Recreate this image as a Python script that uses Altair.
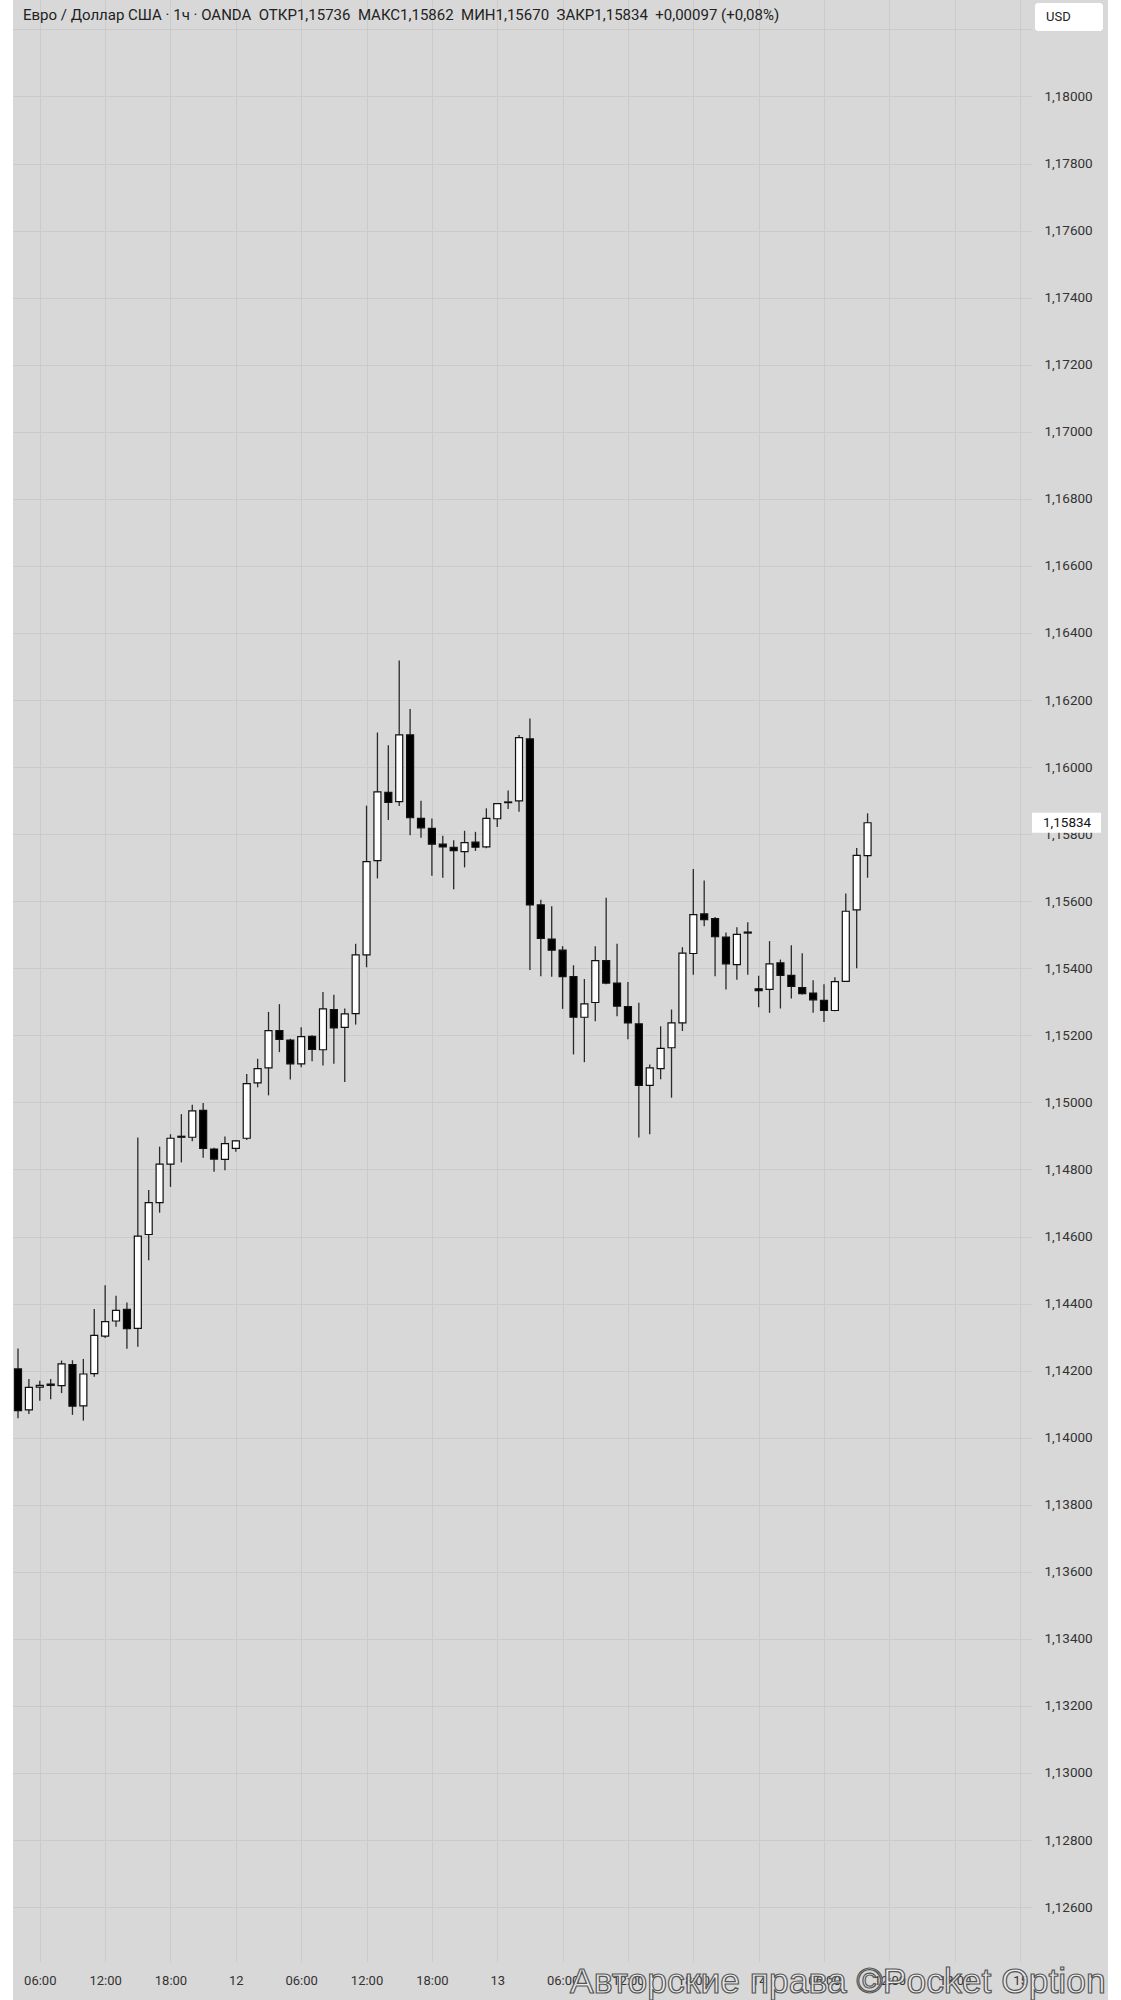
import altair as alt
import pandas as pd

# EUR/USD, 1-hour candles (OANDA), 11 Nov 04:00 -> 14 Nov 10:00 UTC
opens = [
    1.14205, 1.14083, 1.14151, 1.14160, 1.14155, 1.14218, 1.14095, 1.14191, 1.14303, 1.14348,
    1.14383, 1.14326, 1.14606, 1.14701, 1.14816, 1.14896, 1.14896, 1.14976, 1.14861, 1.14830,
    1.14863, 1.14893, 1.15058, 1.15103, 1.15214, 1.15186, 1.15115, 1.15197, 1.15157, 1.15277,
    1.15224, 1.15265, 1.15440, 1.15721, 1.15925, 1.15897, 1.16096, 1.15847, 1.15817, 1.15770,
    1.15761, 1.15748, 1.15776, 1.15762, 1.15846, 1.15894, 1.15899, 1.16084, 1.15589, 1.15487,
    1.15454, 1.15375, 1.15254, 1.15298, 1.15423, 1.15356, 1.15286, 1.15234, 1.15051, 1.15101,
    1.15163, 1.15237, 1.15444, 1.15562, 1.15548, 1.15493, 1.15411, 1.15505, 1.15339, 1.15337,
    1.15416, 1.15379, 1.15342, 1.15326, 1.15304, 1.15274, 1.15361, 1.15574, 1.15736,
]
highs = [
    1.14266, 1.14175, 1.14170, 1.14175, 1.14230, 1.14231, 1.14235, 1.14384, 1.14455, 1.14423,
    1.14403, 1.14895, 1.14739, 1.14868, 1.14905, 1.14965, 1.14993, 1.14998, 1.14865, 1.14898,
    1.14888, 1.15085, 1.15130, 1.15270, 1.15293, 1.15190, 1.15224, 1.15200, 1.15329, 1.15321,
    1.15280, 1.15473, 1.15885, 1.16103, 1.16065, 1.16318, 1.16173, 1.15900, 1.15847, 1.15795,
    1.15782, 1.15810, 1.15807, 1.15877, 1.15892, 1.15930, 1.16096, 1.16145, 1.15604, 1.15585,
    1.15466, 1.15409, 1.15368, 1.15466, 1.15610, 1.15473, 1.15359, 1.15297, 1.15113, 1.15227,
    1.15277, 1.15463, 1.15696, 1.15662, 1.15553, 1.15507, 1.15522, 1.15537, 1.15378, 1.15481,
    1.15426, 1.15469, 1.15445, 1.15364, 1.15352, 1.15373, 1.15623, 1.15759, 1.15862,
]
lows = [
    1.14058, 1.14071, 1.14110, 1.14115, 1.14133, 1.14068, 1.14051, 1.14182, 1.14297, 1.14331,
    1.14265, 1.14271, 1.14529, 1.14671, 1.14748, 1.14821, 1.14884, 1.14835, 1.14793, 1.14798,
    1.14853, 1.14888, 1.15045, 1.15021, 1.15150, 1.15068, 1.15105, 1.15123, 1.15110, 1.15115,
    1.15061, 1.15232, 1.15403, 1.15668, 1.15842, 1.15884, 1.15797, 1.15789, 1.15676, 1.15670,
    1.15636, 1.15701, 1.15750, 1.15758, 1.15821, 1.15875, 1.15867, 1.15395, 1.15376, 1.15375,
    1.15279, 1.15143, 1.15120, 1.15242, 1.15352, 1.15257, 1.15188, 1.14895, 1.14905, 1.15069,
    1.15014, 1.15213, 1.15381, 1.15525, 1.15376, 1.15337, 1.15366, 1.15381, 1.15284, 1.15267,
    1.15280, 1.15310, 1.15322, 1.15267, 1.15240, 1.15272, 1.15400, 1.15400, 1.15670,
]
closes = [
    1.14081, 1.14150, 1.14156, 1.14156, 1.14220, 1.14094, 1.14190, 1.14305, 1.14346, 1.14380,
    1.14325, 1.14601, 1.14701, 1.14816, 1.14893, 1.14899, 1.14975, 1.14863, 1.14831, 1.14877,
    1.14885, 1.15056, 1.15101, 1.15214, 1.15188, 1.15115, 1.15196, 1.15158, 1.15279, 1.15222,
    1.15264, 1.15440, 1.15718, 1.15926, 1.15895, 1.16096, 1.15849, 1.15819, 1.15770, 1.15762,
    1.15751, 1.15775, 1.15761, 1.15847, 1.15891, 1.15896, 1.16088, 1.15589, 1.15489, 1.15454,
    1.15375, 1.15254, 1.15294, 1.15423, 1.15356, 1.15287, 1.15237, 1.15051, 1.15103, 1.15161,
    1.15237, 1.15445, 1.15560, 1.15545, 1.15494, 1.15413, 1.15501, 1.15508, 1.15333, 1.15413,
    1.15379, 1.15346, 1.15324, 1.15306, 1.15274, 1.15360, 1.15570, 1.15737, 1.15834,
]

times = (
    pd.date_range("2025-11-11 04:00", periods=len(opens), freq="h")
    .strftime("%Y-%m-%dT%H:%M:%SZ")
    .tolist()
)

# price grid every 0.002
price_ticks = [round(1.126 + 0.002 * k, 3) for k in range(29)]
# time grid every 6 hours
time_ticks = pd.date_range("2025-11-11 06:00", "2025-11-15 00:00", freq="6h")

GAP = "\u00a0\u00a0"
header = GAP.join([
    "Евро / Доллар США · 1ч · OANDA",
    "ОТКР1,15736", "МАКС1,15862", "МИН1,15670", "ЗАКР1,15834", "+0,00097 (+0,08%)",
])
currency = "USD"
watermark = "Авторские права ©Pocket Option"

BG = "#d8d8d8"
GRID = "#cbcbcb"
FONT = "Roboto"

df = pd.DataFrame({"t": times, "o": opens, "h": highs, "l": lows, "c": closes})
df["dir"] = ["up" if c >= o else "down" for o, c in zip(opens, closes)]

x_scale = alt.Scale(
    type="utc",
    domain=[
        alt.DateTime(year=2025, month=11, date=11, hours=4, utc=True),
        alt.DateTime(year=2025, month=11, date=15, hours=0, minutes=32, seconds=44, utc=True),
    ],
)
x_axis = alt.Axis(
    values=[alt.DateTime(year=t.year, month=t.month, date=t.day, hours=t.hour, utc=True)
            for t in time_ticks],
    labelExpr="utchours(datum.value) == 0 ? utcFormat(datum.value, '%d') : utcFormat(datum.value, '%H:%M')",
    grid=True, gridColor=GRID, gridWidth=1,
    domain=False, ticks=False,
    labelFont=FONT, labelFontSize=13, labelColor="#333333",
    labelPadding=12, labelBaseline="top", labelFlush=False, labelOverlap=False,
)
y_scale = alt.Scale(domain=[1.124363, 1.182878], nice=False, zero=False)
y_axis = alt.Axis(
    orient="right",
    values=price_ticks,
    labelExpr="datum.value > 1.181 ? '' : replace(format(datum.value, '.5f'), '.', ',')",
    grid=True, gridColor=GRID, gridWidth=1,
    domain=False, ticks=False,
    labelFont=FONT, labelFontSize=13.5, labelColor="#333333",
    labelPadding=13, labelAlign="left", labelFlush=False,
)

base = alt.Chart(df).encode(x=alt.X("t:T", scale=x_scale, axis=x_axis, title=None))

wicks = base.mark_rule(color="#2a2a2a", strokeWidth=1.3, clip=True).encode(
    y=alt.Y("l:Q", scale=y_scale, axis=y_axis, title=None),
    y2="h:Q",
)
bodies = base.mark_bar(size=7, stroke="#111111", strokeWidth=1.2, clip=True).encode(
    y=alt.Y("o:Q"),
    y2="c:Q",
    fill=alt.Fill("dir:N", scale=alt.Scale(domain=["up", "down"], range=["#ffffff", "#000000"]),
                  legend=None),
)

one = pd.DataFrame({"k": [0]})

# white margins left and right of the chart panel
margin_left = alt.Chart(one).mark_rect(color="#ffffff").encode(
    x=alt.value(-13), x2=alt.value(0), y=alt.value(0), y2=alt.value(2000)
)
margin_right = alt.Chart(one).mark_rect(color="#ffffff").encode(
    x=alt.value(1095), x2=alt.value(1108), y=alt.value(0), y2=alt.value(2000)
)

# last-price tag on the price scale
last = df.tail(1).copy()
tag_box = alt.Chart(last).mark_rect(color="#ffffff", yOffset=-10, y2Offset=10).encode(
    y=alt.Y("c:Q"), y2="c:Q", x=alt.value(1019), x2=alt.value(1088),
)
tag_text = alt.Chart(last).transform_calculate(
    lbl="replace(format(datum.c, '.5f'), '.', ',')"
).mark_text(align="left", baseline="middle", font=FONT, fontSize=13.5, color="#111111").encode(
    y=alt.Y("c:Q"), x=alt.value(1030), text="lbl:N",
)

title_text = alt.Chart(one).mark_text(
    align="left", baseline="middle", font=FONT, fontSize=15, color="#222222"
).encode(x=alt.value(10), y=alt.value(15), text=alt.value(header))

usd_box = alt.Chart(one).mark_rect(color="#ffffff", cornerRadius=3).encode(
    x=alt.value(1022), x2=alt.value(1090), y=alt.value(3), y2=alt.value(31)
)
usd_text = alt.Chart(one).mark_text(
    align="left", baseline="middle", font=FONT, fontSize=13, color="#222222"
).encode(x=alt.value(1033), y=alt.value(17), text=alt.value(currency))

wm = alt.Chart(one).mark_text(
    align="left", baseline="alphabetic", font="Liberation Sans", fontSize=35.5,
    fill="#eeeeee", fillOpacity=0.85, stroke="#555555", strokeWidth=1.2,
).encode(x=alt.value(557), y=alt.value(1993), text=alt.value(watermark))

chart = alt.layer(
    wicks, bodies, margin_left, margin_right, tag_box, tag_text,
    title_text, usd_box, usd_text, wm
).properties(
    width=1018,
    height=1962,
    padding={"left": 13, "top": 0, "right": 90, "bottom": 38},
    autosize=alt.AutoSizeParams(type="none"),
).configure(background=BG).configure_view(strokeWidth=0)

chart.save("out.html", embed_options={"renderer": "svg", "actions": False})
